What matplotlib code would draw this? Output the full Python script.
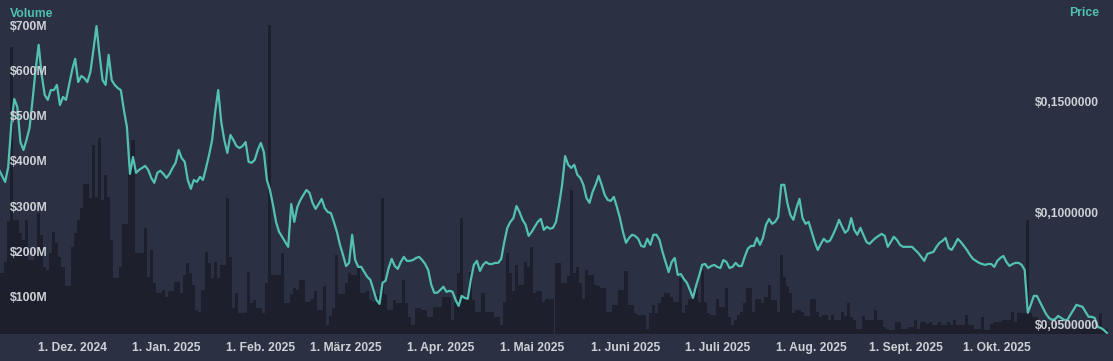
import numpy as np
import pandas as pd
import matplotlib
matplotlib.use("Agg")
import matplotlib.pyplot as plt
import matplotlib.dates as mdates
import matplotlib.transforms as mtransforms

# =========================
# Data (daily)
# =========================
start_date = "2024-11-07"

# daily price in USD
price = [
    0.1200, 0.1173, 0.1146, 0.1213, 0.1402, 0.1518, 0.1482, 0.1325, 0.1289, 0.1334,
    0.1388, 0.1514, 0.1648, 0.1761, 0.1626, 0.1536, 0.1514, 0.1558, 0.1558, 0.1581,
    0.1491, 0.1527, 0.1514, 0.1581, 0.1648, 0.1698, 0.1594, 0.1621, 0.1612, 0.1594,
    0.1639, 0.1738, 0.1845, 0.1716, 0.1603, 0.1581, 0.1716, 0.1603, 0.1581, 0.1567,
    0.1558, 0.1469, 0.1393, 0.1182, 0.1258, 0.1187, 0.1200, 0.1209, 0.1218, 0.1200,
    0.1164, 0.1142, 0.1187, 0.1196, 0.1182, 0.1164, 0.1182, 0.1209, 0.1232, 0.1289,
    0.1253, 0.1236, 0.1155, 0.1115, 0.1155, 0.1146, 0.1169, 0.1155, 0.1209, 0.1267,
    0.1334, 0.1460, 0.1558, 0.1415, 0.1334, 0.1276, 0.1357, 0.1334, 0.1307, 0.1298,
    0.1307, 0.1325, 0.1236, 0.1232, 0.1245, 0.1289, 0.1321, 0.1280, 0.1155, 0.1110,
    0.1043, 0.0967, 0.0922, 0.0900, 0.0877, 0.0855, 0.1047, 0.0967, 0.1034, 0.1065,
    0.1088, 0.1110, 0.1097, 0.1052, 0.1025, 0.1047, 0.1070, 0.1029, 0.1011, 0.1007,
    0.0967, 0.0922, 0.0864, 0.0819, 0.0769, 0.0783, 0.0909, 0.0796, 0.0765, 0.0765,
    0.0742, 0.0720, 0.0707, 0.0662, 0.0617, 0.0599, 0.0694, 0.0703, 0.0760, 0.0801,
    0.0769, 0.0756, 0.0787, 0.0810, 0.0792, 0.0792, 0.0796, 0.0805, 0.0810, 0.0796,
    0.0778, 0.0751, 0.0685, 0.0649, 0.0649, 0.0662, 0.0676, 0.0653, 0.0658, 0.0653,
    0.0617, 0.0590, 0.0635, 0.0626, 0.0622, 0.0707, 0.0774, 0.0792, 0.0747, 0.0774,
    0.0787, 0.0778, 0.0778, 0.0783, 0.0783, 0.0801, 0.0877, 0.0940, 0.0967, 0.0984,
    0.1038, 0.1011, 0.0976, 0.0954, 0.0904, 0.0922, 0.0945, 0.0967, 0.0980, 0.0931,
    0.0945, 0.0936, 0.0940, 0.0967, 0.1043, 0.1133, 0.1262, 0.1223, 0.1209, 0.1223,
    0.1178, 0.1164, 0.1133, 0.1074, 0.1052, 0.1101, 0.1133, 0.1173, 0.1133, 0.1088,
    0.1065, 0.1061, 0.1079, 0.1034, 0.0984, 0.0922, 0.0873, 0.0895, 0.0909, 0.0904,
    0.0891, 0.0859, 0.0855, 0.0891, 0.0864, 0.0909, 0.0909, 0.0886, 0.0832, 0.0787,
    0.0742, 0.0787, 0.0805, 0.0729, 0.0733, 0.0711, 0.0694, 0.0662, 0.0626, 0.0680,
    0.0724, 0.0774, 0.0778, 0.0760, 0.0769, 0.0774, 0.0765, 0.0760, 0.0796, 0.0787,
    0.0760, 0.0765, 0.0783, 0.0769, 0.0769, 0.0810, 0.0846, 0.0859, 0.0859, 0.0895,
    0.0864, 0.0895, 0.0954, 0.0980, 0.0958, 0.0967, 0.0989, 0.1133, 0.1133, 0.1052,
    0.0998, 0.0976, 0.1029, 0.1070, 0.0984, 0.0958, 0.0967, 0.0922, 0.0877, 0.0841,
    0.0868, 0.0891, 0.0877, 0.0882, 0.0909, 0.0940, 0.0976, 0.0945, 0.0918, 0.0931,
    0.0984, 0.0931, 0.0909, 0.0940, 0.0909, 0.0877, 0.0868, 0.0882, 0.0895, 0.0904,
    0.0913, 0.0904, 0.0855, 0.0877, 0.0900, 0.0886, 0.0864, 0.0855, 0.0855, 0.0855,
    0.0855, 0.0841, 0.0828, 0.0810, 0.0792, 0.0823, 0.0828, 0.0832, 0.0855, 0.0873,
    0.0882, 0.0895, 0.0850, 0.0841, 0.0864, 0.0891, 0.0877, 0.0859, 0.0841, 0.0819,
    0.0801, 0.0792, 0.0783, 0.0778, 0.0774, 0.0778, 0.0778, 0.0765, 0.0792, 0.0805,
    0.0814, 0.0787, 0.0769, 0.0778, 0.0783, 0.0783, 0.0774, 0.0751, 0.0559, 0.0595,
    0.0635, 0.0635, 0.0608, 0.0581, 0.0554, 0.0536, 0.0527, 0.0531, 0.0545, 0.0536,
    0.0527, 0.0527, 0.0550, 0.0572, 0.0595, 0.0590, 0.0586, 0.0563, 0.0541, 0.0541,
    0.0536, 0.0496, 0.0491, 0.0482, 0.0469,
]

# daily volume in million USD
volume_m = [
    155, 155, 180, 270, 656, 273, 272, 244, 229, 273,
    185, 185, 200, 288, 240, 170, 163, 200, 247, 222,
    192, 170, 126, 126, 214, 245, 273, 300, 352, 352,
    321, 439, 324, 453, 317, 373, 324, 229, 145, 145,
    170, 265, 265, 391, 450, 200, 200, 200, 255, 148,
    207, 133, 112, 112, 118, 103, 115, 115, 137, 137,
    112, 152, 178, 155, 130, 73, 70, 118, 203, 178,
    145, 181, 145, 174, 174, 321, 192, 78, 112, 67,
    67, 67, 159, 89, 96, 78, 78, 67, 133, 703,
    152, 152, 152, 200, 89, 89, 110, 122, 118, 140,
    140, 92, 92, 99, 115, 73, 73, 126, 41, 60,
    78, 195, 109, 109, 133, 155, 152, 152, 170, 112,
    112, 115, 96, 92, 109, 109, 321, 109, 73, 73,
    96, 89, 89, 140, 89, 58, 41, 78, 78, 73,
    73, 58, 58, 81, 81, 81, 103, 103, 103, 52,
    89, 155, 277, 99, 99, 159, 96, 70, 70, 112,
    70, 70, 70, 58, 58, 41, 92, 200, 155, 115,
    174, 130, 130, 181, 170, 214, 112, 115, 115, 92,
    99, 99, 99, 178, 178, 133, 133, 150, 339, 155,
    170, 133, 99, 163, 152, 152, 130, 126, 122, 122,
    70, 70, 85, 85, 118, 118, 161, 85, 85, 67,
    63, 63, 63, 33, 67, 85, 67, 89, 103, 112,
    112, 103, 92, 92, 145, 67, 85, 99, 99, 122,
    92, 163, 92, 67, 63, 63, 99, 81, 81, 122,
    58, 41, 52, 63, 70, 89, 122, 122, 70, 99,
    99, 89, 103, 130, 96, 96, 70, 195, 148, 126,
    112, 67, 73, 73, 70, 61, 61, 99, 99, 70,
    58, 63, 63, 52, 63, 52, 52, 70, 61, 89,
    58, 52, 33, 33, 61, 52, 52, 52, 73, 52,
    52, 37, 33, 30, 30, 48, 48, 33, 33, 37,
    37, 52, 33, 48, 48, 44, 48, 41, 41, 48,
    41, 41, 48, 41, 52, 41, 41, 41, 63, 41,
    41, 33, 33, 58, 30, 30, 44, 48, 48, 48,
    52, 52, 52, 70, 48, 67, 67, 67, 273, 67,
    58, 58, 48, 48, 48, 41, 41, 33, 33, 33,
    33, 33, 33, 33, 33, 33, 33, 33, 33, 33,
    33, 33, 67, 33, 33,
]

volume_ticks_m = [100, 200, 300, 400, 500, 600, 700]
price_ticks = [0.05, 0.10, 0.15]

tick_dates = ["2024-12-01", "2025-01-01", "2025-02-01", "2025-03-01", "2025-04-01",
              "2025-05-01", "2025-06-01", "2025-07-01", "2025-08-01", "2025-09-01",
              "2025-10-01"]
tick_labels = ["1. Dez. 2024", "1. Jan. 2025", "1. Feb. 2025", "1. März 2025",
               "1. Apr. 2025", "1. Mai 2025", "1. Juni 2025", "1. Juli 2025",
               "1. Aug. 2025", "1. Sept. 2025", "1. Okt. 2025"]

# =========================
# Style
# =========================
BG = "#2b3042"
BAR = "#1d202c"
LINE = "#52c1b3"
TEXT = "#cdd0d6"
TEAL = "#4fbfb2"

plt.rcParams["font.family"] = ["Liberation Sans", "DejaVu Sans"]

dates = pd.date_range(start_date, periods=len(price), freq="D")
x = mdates.date2num(dates)
volume = np.array(volume_m) * 1e6

fig = plt.figure(figsize=(11.13, 3.61), dpi=100, facecolor=BG)
ax = fig.add_axes([0, 27 / 361, 1109 / 1113, 334 / 361])
ax.set_facecolor(BG)

# Volume bars
ax.bar(x, volume, width=1.0, color=BAR, linewidth=0, zorder=1)
ax.set_ylim(21e6, 759e6)

# Price line
ax2 = ax.twinx()
ax2.plot(x, price, color=LINE, linewidth=1.6, zorder=3)
ax2.set_ylim(0.0464, 0.1962)

x0 = mdates.date2num(pd.Timestamp(start_date))
ax.set_xlim(x0 + 0.3, x0 + 364.7)

for a in (ax, ax2):
    for s in a.spines.values():
        s.set_visible(False)
    a.set_yticks([])

# =========================
# Axis labels
# =========================
ax.set_xticks(mdates.date2num(pd.to_datetime(tick_dates)))
ax.set_xticklabels(tick_labels, color=TEXT, fontsize=8.7, fontweight="bold")
ax.tick_params(axis="x", length=0, pad=5.5)

vol_tr = mtransforms.blended_transform_factory(ax.transAxes, ax.transData)
for v in volume_ticks_m:
    ax2.text(10 / 1109, v * 1e6, f"${v}M", transform=vol_tr, ha="left", va="center",
             color=TEXT, fontsize=8.9, fontweight="bold", zorder=5)

price_tr = mtransforms.blended_transform_factory(ax2.transAxes, ax2.transData)
for p in price_ticks:
    label = f"${p:.7f}".replace(".", ",")
    ax2.text(1099 / 1109, p, label, transform=price_tr, ha="right", va="center",
             color=TEXT, fontsize=8.7, fontweight="bold", zorder=5)

fig.text(10 / 1113, 1 - 14 / 361, "Volume", color=TEAL, fontsize=8.8,
         fontweight="bold", ha="left", va="center")
fig.text(1099 / 1113, 1 - 13 / 361, "Price", color=TEAL, fontsize=8.8,
         fontweight="bold", ha="right", va="center")

fig.savefig("out.png", dpi=100, facecolor=BG)
